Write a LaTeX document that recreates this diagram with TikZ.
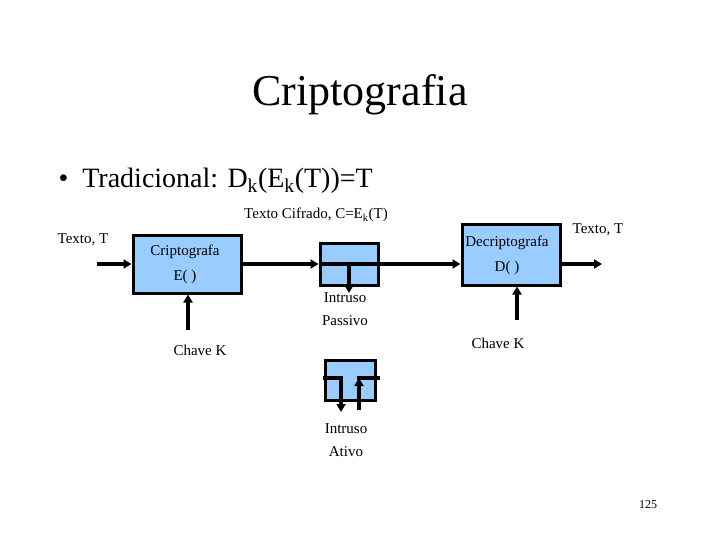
\documentclass[tikz,border=0pt]{standalone}
\usepackage{fontspec}
\setmainfont{Liberation Serif}
\usetikzlibrary{arrows.meta}
\definecolor{boxblue}{RGB}{153,204,255}
\begin{document}
\begin{tikzpicture}[x=1pt,y=-1pt,
  blk/.style={draw=black,line width=3pt,fill=boxblue},
  ln/.style={line width=3.5pt},
  arr/.style={ln,-{Triangle[length=8pt,width=9pt]}},
  lbl/.style={font=\fontsize{15}{17}\selectfont,inner sep=0pt},
  lbl2/.style={lbl,align=center}]
\useasboundingbox (0,0) rectangle (720,540);
\node[font=\fontsize{44}{50}\selectfont] (title) at (360,95) {Criptografia};
\node[font=\fontsize{28}{32}\selectfont,anchor=west] (bul) at (55,181) {\textbullet\ \ Tradicional: D\textsubscript{k}(E\textsubscript{k}(T))=T};
\node[blk,minimum width=108pt,minimum height=58pt] (E) at (187,264) {};
\node[lbl2] (Et) at (185,264) {Criptografa\\[8pt]E( )};
\node[blk,minimum width=58pt,minimum height=42pt] (P) at (349,264) {};
\node[blk,minimum width=98pt,minimum height=60pt] (D) at (511,255) {};
\node[lbl2] (Dt) at (507,255) {Decriptografa\\[8pt]D( )};
\node[blk,minimum width=50pt,minimum height=40pt] (A) at (350,380) {};
\node[lbl] (tin) at (83,240) {Texto, T};
\node[lbl] (tout) at (598,230) {Texto, T};
\node[lbl] (tc) at (316,215) {Texto Cifrado, C=E\textsubscript{k}(T)};
\node[lbl2] (ip) at (345,309) {Intruso\\[6pt]Passivo};
\node[lbl2] (ia) at (346,440) {Intruso\\[6pt]Ativo};
\node[lbl] (k1) at (200,350) {Chave K};
\node[lbl] (k2) at (498,343) {Chave K};
\node[lbl] (pg) at (648,505) {\fontsize{12}{14}\selectfont 125};
\coordinate (inS) at (97,264);
\coordinate (outE) at (602,264);
\draw[arr] (inS) -- (E.west);
\draw[arr] (E.east) -- (P.west);
\draw[arr] (P.west) -- (D.west |- P.west);
\draw[arr] (D.east |- outE) -- (outE);
\draw[arr] (P.center) -- (349,293);
\draw[arr] (188,330) -- (E.south -| 188,0);
\draw[arr] (517,320) -- (D.south -| 517,0);
\draw[ln] (323,378) -- (341,378) -- (341,395);
\draw[arr] (341,390) -- (341,412);
\draw[arr] (359,410) -- (359,378);
\draw[ln] (357.25,378) -- (380,378);
\end{tikzpicture}
\end{document}
